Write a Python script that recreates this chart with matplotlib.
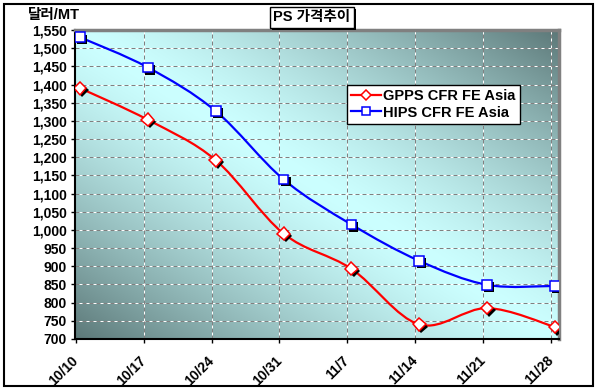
import numpy as np
import matplotlib
matplotlib.use("Agg")
import matplotlib.pyplot as plt
import matplotlib.patheffects as pe
from matplotlib.path import Path
from matplotlib.patches import PathPatch, Rectangle
from matplotlib.lines import Line2D

plt.rcParams['font.family'] = ['Liberation Sans', 'Noto Sans CJK KR', 'DejaVu Sans']
plt.rcParams['font.weight'] = 'bold'

dates = ['10/10', '10/17', '10/24', '10/31', '11/7', '11/14', '11/21', '11/28']
gpps = [1390, 1303, 1192, 990, 893, 740, 785, 733]
hips = [1530, 1447, 1327, 1139, 1015, 915, 849, 846]
yticks = np.arange(700, 1551, 50)


def smooth_path(xs, ys):
    # excel-style smoothed line (bezier through the points)
    p = np.column_stack([xs, ys]).astype(float)
    n = len(p)
    verts = [p[0]]
    codes = [Path.MOVETO]
    for i in range(n - 1):
        p0 = p[i - 1] if i > 0 else p[i]
        p3 = p[i + 2] if i + 2 < n else p[i + 1]
        verts += [p[i] + (p[i + 1] - p0) / 6, p[i + 1] - (p3 - p[i]) / 6, p[i + 1]]
        codes += [Path.CURVE4] * 3
    return Path(verts, codes)


fig = plt.figure(figsize=(5.99, 3.92), dpi=100)
ax = fig.add_axes([75 / 599, 1 - 339 / 392, 484 / 599, 309 / 392])

# diagonal gradient background
u = np.linspace(0, 1, 300)
v = np.linspace(1, 0, 300)
U, V = np.meshgrid(u, v)
t = (np.abs(U + V - 1) ** 1.35)[..., None]
light = np.array([0.80, 1.0, 1.0])
dark = np.array([0.36, 0.47, 0.47])
ax.imshow(light + (dark - light) * t, extent=[0, 1, 0, 1], transform=ax.transAxes,
          aspect='auto', zorder=0, interpolation='bilinear')

x = np.arange(len(dates))
shift = 0.06
ax.set_xlim(-0.074, 7.06)
ax.set_ylim(700, 1550)

# gridlines: white under gray dashes
for yv in yticks[1:]:
    ax.axhline(yv, color='white', lw=0.72, zorder=1)
    ax.axhline(yv, color='#808080', lw=0.72, ls=(0, (4, 3)), zorder=1.1)
for xv in x[1:] - shift:
    ax.axvline(xv, color='white', lw=0.72, zorder=1)
    ax.axvline(xv, color='#808080', lw=0.72, ls=(0, (4, 3)), zorder=1.1)

shadow = [pe.SimplePatchShadow(offset=(1.6, -1.6), shadow_rgbFace='black', alpha=1), pe.Normal()]
series = [(gpps, 'red', 'D', 6.5, 'GPPS CFR FE Asia'),
          (hips, 'blue', 's', 7, 'HIPS CFR FE Asia')]
handles = []
for vals, col, mk, ms, name in series:
    ax.add_patch(PathPatch(smooth_path(x, vals), fc='none', ec=col, lw=1.6, zorder=3))
    ax.plot(x, vals, ls='none', marker=mk, ms=ms, mfc='white', mec=col, mew=1.1,
            path_effects=shadow, zorder=4)
    handles.append(Line2D([], [], color=col, lw=1.6, marker=mk, ms=ms - 1,
                          mfc='white', mec=col, mew=1.1, label=name))

ax.set_yticks(yticks, [f'{y:,}' for y in yticks], fontsize=10)
ax.set_xticks(x - shift, dates, fontsize=10, rotation=45, ha='right',
              va='center', rotation_mode='anchor')
ax.tick_params(axis='y', direction='out', length=3, width=1, pad=3)
ax.tick_params(axis='x', direction='out', length=3, width=1, pad=11)

for s in ['left', 'bottom']:
    ax.spines[s].set_color('black')
    ax.spines[s].set_linewidth(1.5)
for s in ['top', 'right']:
    ax.spines[s].set_color('#808080')
    ax.spines[s].set_linewidth(2.5)

leg = ax.legend(handles=handles, loc='upper left', bbox_to_anchor=(347 / 599, 1 - 85 / 392),
                bbox_transform=fig.transFigure, borderaxespad=0, fontsize=10.5,
                handlelength=2.0, handletextpad=0.2, borderpad=0.3, labelspacing=0.15,
                fancybox=False, framealpha=1, edgecolor='black')
leg.get_frame().set_linewidth(1)
leg.set_zorder(5)

# title box with shadow
title = fig.text(312 / 599, 1 - 17.5 / 392, 'PS 가격추이', ha='center', va='center',
                 fontsize=10.5,
                 bbox=dict(boxstyle='square,pad=0.22', fc='white', ec='black', lw=1))
title.get_bbox_patch().set_path_effects(
    [pe.SimplePatchShadow(offset=(1.5, -1.5), shadow_rgbFace='black', alpha=1), pe.Normal()])

fig.text(28 / 599, 1 - 15 / 392, '달러/MT', ha='left', va='center', fontsize=10.5)

fig.add_artist(Rectangle((4 / 599, 1 - 386 / 392), 589 / 599, 382 / 392,
                         transform=fig.transFigure, fill=False, ec='black', lw=1.5))

fig.savefig('out.png', dpi=100)
